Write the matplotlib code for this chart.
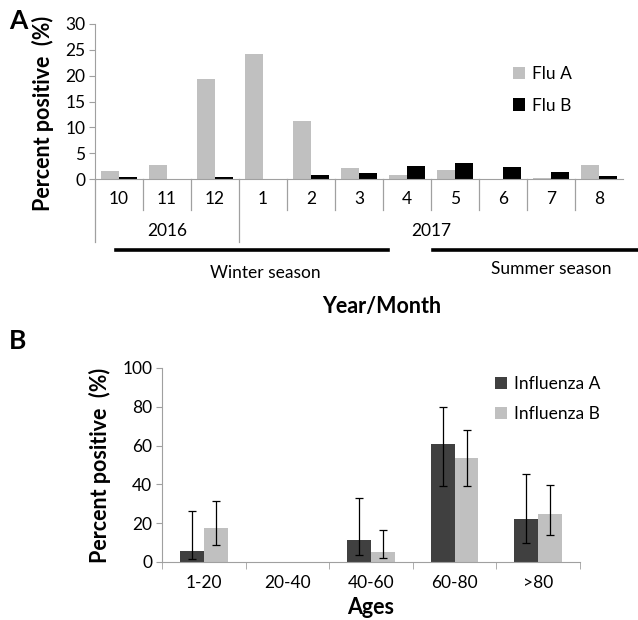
import matplotlib
matplotlib.use("Agg")
import matplotlib.pyplot as plt
import numpy as np
from matplotlib.lines import Line2D

plt.rcParams['font.family'] = ['Lato', 'DejaVu Sans']

# ---------- data ----------
months = ["10", "11", "12", "1", "2", "3", "4", "5", "6", "7", "8"]
years = ["2016", "2017"]
flu_a = [1.6, 2.8, 19.4, 24.1, 11.3, 2.1, 0.7, 1.7, 0.0, 0.25, 2.8]
flu_b = [0.3, 0.0, 0.3, 0.0, 0.7, 1.2, 2.6, 3.1, 2.4, 1.4, 0.5]

ages = ["1-20", "20-40", "40-60", "60-80", ">80"]
inf_a = [5.8, 0.0, 11.3, 61.0, 22.2]
inf_a_hi = [26.1, 0.0, 33.0, 79.9, 45.4]
inf_a_lo = [1.5, 0.0, 3.4, 39.3, 9.8]
inf_b = [17.5, 0.0, 5.2, 53.8, 24.9]
inf_b_hi = [31.3, 0.0, 16.3, 68.0, 39.7]
inf_b_lo = [8.9, 0.0, 1.9, 39.3, 14.1]

W, H = 638, 620
fig = plt.figure(figsize=(W / 100, H / 100), dpi=100)

def fx(px):
    return px / W

def fy(py):
    return 1 - py / H

axis_col = "#a0a0a0"
light = "#c0c0c0"
dark = "#404040"
tick_fs = 12.5
lab_fs = 15.5

# ---------- Panel A ----------
axA = fig.add_axes([fx(95), fy(179), fx(623) - fx(95), fy(24) - fy(179)])
x = np.arange(len(months))
bw = 0.37
axA.bar(x - bw / 2, flu_a, bw, color=light, label="Flu A")
axA.bar(x + bw / 2, flu_b, bw, color="black", label="Flu B")
axA.set_xlim(-0.5, len(months) - 0.5)
axA.set_ylim(0, 30)
axA.set_yticks(np.arange(0, 31, 5))
axA.tick_params(axis='y', length=4, color=axis_col, labelsize=tick_fs, pad=3)
axA.set_xticks(x)
axA.set_xticklabels(months, fontsize=tick_fs)
axA.tick_params(axis='x', length=0, pad=9)
for s in ["top", "right"]:
    axA.spines[s].set_visible(False)
for s in ["left", "bottom"]:
    axA.spines[s].set_color(axis_col)
axA.set_ylabel("Percent positive  (%)", fontsize=lab_fs, fontweight='bold')
axA.yaxis.set_label_coords(-0.078, 0.42)
axA.legend(loc="upper left", bbox_to_anchor=(0.762, 0.83), frameon=False,
           fontsize=tick_fs, handlelength=0.7, handleheight=0.7, handletextpad=0.4,
           labelspacing=0.9)

# multi-level category axis decorations (figure coords)
for i in range(len(months)):
    xb = 95 + 48 * i
    y2 = 242 if i in (0, 3) else 210
    fig.add_artist(Line2D([fx(xb), fx(xb)], [fy(179), fy(y2)], color=axis_col, lw=0.9))
fig.text(fx(167), fy(231), years[0], fontsize=tick_fs, ha='center', va='center')
fig.text(fx(431), fy(231), years[1], fontsize=tick_fs, ha='center', va='center')
fig.add_artist(Line2D([fx(116), fx(388)], [fy(250), fy(250)], color="black", lw=2.6))
fig.add_artist(Line2D([fx(433), fx(638)], [fy(250), fy(250)], color="black", lw=2.6))
fig.text(fx(265), fy(273), "Winter season", fontsize=tick_fs, ha='center', va='center')
fig.text(fx(551), fy(269), "Summer season", fontsize=tick_fs, ha='center', va='center')
fig.text(fx(382), fy(307), "Year/Month", fontsize=lab_fs, fontweight='bold', ha='center', va='center')
fig.text(fx(18), fy(21), "A", fontsize=19, fontweight='bold', ha='center', va='center')

# ---------- Panel B ----------
axB = fig.add_axes([fx(162), fy(562), fx(580) - fx(162), fy(368) - fy(562)])
xb_ = np.arange(len(ages))
bw2 = 0.285
a = np.array(inf_a); b = np.array(inf_b)
err_a = np.array([a - np.array(inf_a_lo), np.array(inf_a_hi) - a])
err_b = np.array([b - np.array(inf_b_lo), np.array(inf_b_hi) - b])
axB.bar(xb_ - bw2 / 2, a, bw2, color=dark, label="Influenza A")
axB.bar(xb_ + bw2 / 2, b, bw2, color=light, label="Influenza B")
show = a > 0
axB.errorbar((xb_ - bw2 / 2)[show], a[show], yerr=err_a[:, show], fmt='none',
             ecolor='black', elinewidth=0.9, capsize=3, capthick=0.9)
show_b = b > 0
axB.errorbar((xb_ + bw2 / 2)[show_b], b[show_b], yerr=err_b[:, show_b], fmt='none',
             ecolor='black', elinewidth=0.9, capsize=3, capthick=0.9)
axB.set_xlim(-0.5, len(ages) - 0.5)
axB.set_ylim(0, 100)
axB.set_yticks(np.arange(0, 101, 20))
axB.tick_params(axis='y', length=4, color=axis_col, labelsize=tick_fs, pad=3)
axB.set_xticks(xb_)
axB.set_xticklabels(ages, fontsize=tick_fs)
axB.set_xticks(np.arange(-0.5, len(ages), 1), minor=True)
axB.tick_params(axis='x', which='major', length=0, pad=9)
axB.tick_params(axis='x', which='minor', length=5, color=axis_col)
for s in ["top", "right"]:
    axB.spines[s].set_visible(False)
for s in ["left", "bottom"]:
    axB.spines[s].set_color(axis_col)
axB.set_ylabel("Percent positive  (%)", fontsize=lab_fs, fontweight='bold')
axB.yaxis.set_label_coords(-0.122, 0.5)
axB.set_xlabel("Ages", fontsize=lab_fs, fontweight='bold')
axB.xaxis.set_label_coords(0.5, -0.237)
axB.xaxis.label.set_va('center')
axB.legend(loc="upper left", bbox_to_anchor=(0.76, 1.04), frameon=False,
           fontsize=tick_fs, handlelength=0.7, handleheight=0.7, handletextpad=0.4,
           labelspacing=0.8)
fig.text(fx(18), fy(341), "B", fontsize=19, fontweight='bold', ha='center', va='center')

fig.savefig("out.png", dpi=100, facecolor="white")
